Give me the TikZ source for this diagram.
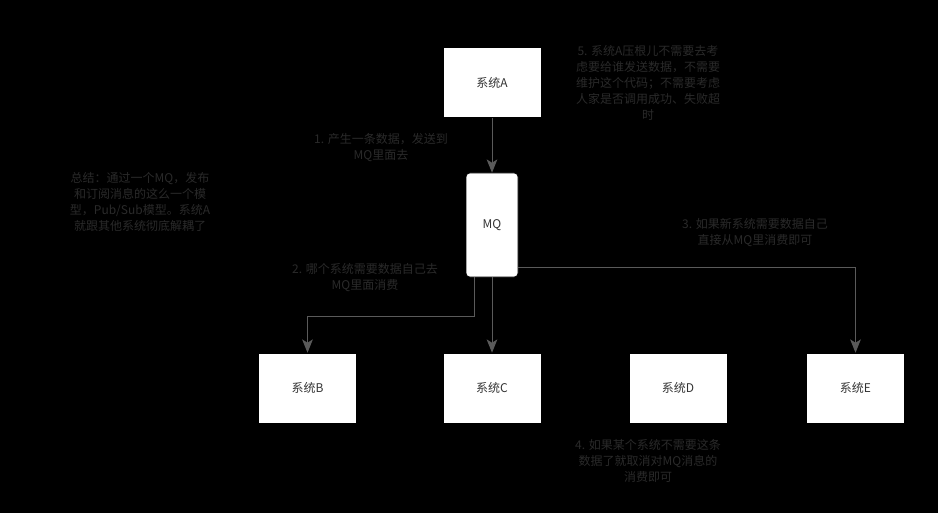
\documentclass[tikz,border=0pt]{standalone}
\usepackage{fontspec}
\setmainfont{Noto Sans CJK SC}
\usetikzlibrary{arrows.meta}
\definecolor{lbl}{HTML}{2A2A2A}
\definecolor{ln}{HTML}{5A5A5A}
\definecolor{boxtxt}{HTML}{333333}
\begin{document}
\begin{tikzpicture}[x=0.75pt,y=-0.75pt,
  sysbox/.style={draw=black,fill=white,minimum width=73.5pt,minimum height=52.5pt,inner sep=0pt,text=boxtxt,font=\fontsize{9}{11}\selectfont},
  mqbox/.style={draw=black,fill=white,rounded corners=3pt,minimum width=39pt,minimum height=78pt,inner sep=0pt,text=boxtxt,font=\fontsize{9}{11}\selectfont},
  note/.style={text=lbl,align=center,font=\fontsize{9}{12}\selectfont,inner sep=0pt},
  conn/.style={draw=ln,line width=0.75pt,-{Stealth[length=10pt,width=8pt,inset=2.5pt]}}]
\fill[black] (0,0) rectangle (938,513);
\useasboundingbox (0,0) rectangle (938,513);
\node[sysbox] (A) at (492,82.5) {系统A};
\node[mqbox] (MQ) at (492,225) {MQ};
\node[sysbox] (B) at (307.5,388) {系统B};
\node[sysbox] (C) at (492,388) {系统C};
\node[sysbox] (D) at (678,388) {系统D};
\node[sysbox] (E) at (855.5,388) {系统E};
\coordinate (b1) at (474,316);
\coordinate (b2) at (307.5,316);
\coordinate (e1) at (855.5,267);
\draw[conn] (A) -- (MQ);
\draw[conn] (MQ) -- (C);
\draw[conn] (MQ.south -| b1) -- (b1) -- (b2) -- (B);
\draw[conn] (MQ.east |- e1) -- (e1) -- (E);
\node[note] (n1) at (381,148) {1. 产生一条数据，发送到\\MQ里面去};
\node[note] (n5) at (648,83) {5. 系统A压根儿不需要去考\\虑要给谁发送数据，不需要\\维护这个代码；不需要考虑\\人家是否调用成功、失败超\\时};
\node[note] (n0) at (140,202) {总结：通过一个MQ，发布\\和订阅消息的这么一个模\\型，Pub/Sub模型。系统A\\就跟其他系统彻底解耦了};
\node[note] (n2) at (365,278) {2. 哪个系统需要数据自己去\\MQ里面消费};
\node[note] (n3) at (755,233) {3. 如果新系统需要数据自己\\直接从MQ里消费即可};
\node[note] (n4) at (648,461) {4. 如果某个系统不需要这条\\数据了就取消对MQ消息的\\消费即可};
\end{tikzpicture}
\end{document}
